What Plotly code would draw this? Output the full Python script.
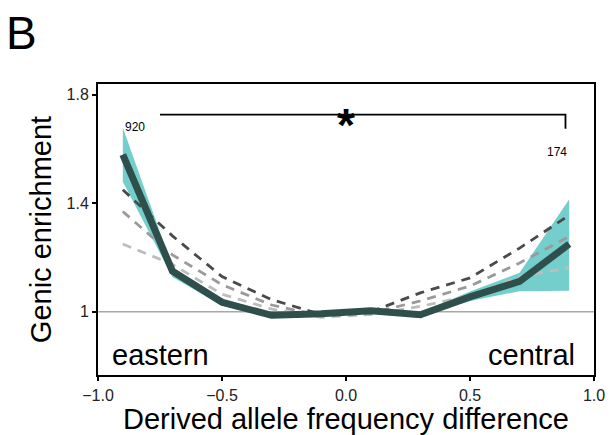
import plotly.graph_objects as go

x_bins = [-0.9, -0.7, -0.5, -0.3, -0.1, 0.1, 0.3, 0.5, 0.7, 0.9]
observed = [1.58, 1.15, 1.035, 0.987, 0.993, 1.004, 0.989, 1.055, 1.112, 1.25]
band_upper = [1.68, 1.165, 1.05, 0.995, 1.0, 1.01, 0.997, 1.075, 1.144, 1.415]
band_lower = [1.48, 1.128, 1.022, 0.978, 0.986, 0.996, 0.981, 1.04, 1.076, 1.078]
sim_dark = [1.45, 1.28, 1.13, 1.045, 0.99, 1.0, 1.07, 1.125, 1.235, 1.356]
sim_mid = [1.37, 1.21, 1.10, 1.025, 0.985, 0.995, 1.04, 1.095, 1.18, 1.278]
sim_light = [1.25, 1.175, 1.065, 1.01, 0.98, 0.99, 1.02, 1.06, 1.13, 1.163]
counts = ["920", "174"]
x_ticks = [-1.0, -0.5, 0.0, 0.5, 1.0]
x_tick_text = ["\u22121.0", "\u22120.5", "0.0", "0.5", "1.0"]
y_ticks = [1.0, 1.4, 1.8]
y_tick_text = ["1", "1.4", "1.8"]

FONT = "Liberation Sans"
fig = go.Figure()

# reference line at 1
fig.add_trace(go.Scatter(x=[-1, 1], y=[1, 1], mode="lines",
                         line=dict(color="#a8a8a8", width=1.5),
                         hoverinfo="skip", showlegend=False))

# band
fig.add_trace(go.Scatter(x=x_bins + x_bins[::-1], y=band_upper + band_lower[::-1],
                         fill="toself", fillcolor="#74cfcc", mode="lines",
                         line=dict(width=0, color="#74cfcc"), showlegend=False))

for vals, col in [(sim_light, "#bdbdbd"), (sim_mid, "#9a9a9a"), (sim_dark, "#4a4a4a")]:
    fig.add_trace(go.Scatter(x=x_bins, y=vals, mode="lines",
                             line=dict(color=col, width=2.8, dash="9px,7px"),
                             showlegend=False))

fig.add_trace(go.Scatter(x=x_bins, y=observed, mode="lines",
                         line=dict(color="#2e4f4c", width=7),
                         showlegend=False))

# bracket
fig.add_trace(go.Scatter(x=[-0.75, 0.885, 0.885], y=[1.727, 1.727, 1.675], mode="lines",
                         line=dict(color="black", width=1.8), showlegend=False))

fig.add_annotation(x=0.0, y=1.727, text="<b>*</b>", showarrow=False,
                   font=dict(size=46, color="black", family=FONT),
                   yanchor="middle", yshift=-10)
fig.add_annotation(x=-0.85, y=1.683, text=counts[0], showarrow=False,
                   font=dict(size=12, color="black", family=FONT))
fig.add_annotation(x=0.85, y=1.59, text=counts[1], showarrow=False,
                   font=dict(size=12, color="black", family=FONT))
fig.add_annotation(x=-0.953, y=0.84, text="eastern", showarrow=False, xanchor="left",
                   font=dict(size=29, color="black", family=FONT))
fig.add_annotation(x=0.93, y=0.84, text="central", showarrow=False, xanchor="right",
                   font=dict(size=29, color="black", family=FONT))
fig.add_annotation(x=(21 - 98) / 496, y=(375 - 33) / 291, xref="paper", yref="paper",
                   text="B", showarrow=False, xanchor="center", yanchor="middle",
                   font=dict(size=46, color="black", family=FONT))

fig.update_layout(
    width=611, height=435,
    margin=dict(l=98, r=17, t=84, b=60, autoexpand=False),
    paper_bgcolor="white", plot_bgcolor="white",
    font=dict(family=FONT, color="black"),
    showlegend=False,
)
fig.update_xaxes(range=[-1, 1], tickvals=x_ticks, ticktext=x_tick_text,
                 ticks="outside", ticklen=4, tickwidth=1.5, tickcolor="black",
                 showline=True, linecolor="black", linewidth=2, mirror=True,
                 showgrid=False, zeroline=False, ticklabelstandoff=1,
                 tickfont=dict(size=16, color="#222"),
                 title=dict(text="Derived allele frequency difference",
                            font=dict(size=29), standoff=1))
fig.update_yaxes(range=[0.767, 1.84], tickvals=y_ticks, ticktext=y_tick_text,
                 ticks="outside", ticklen=4, tickwidth=1.5, tickcolor="black",
                 showline=True, linecolor="black", linewidth=2, mirror=True,
                 showgrid=False, zeroline=False,
                 tickfont=dict(size=16, color="#222"),
                 title=dict(text="Genic enrichment", font=dict(size=29), standoff=6))

fig.write_html("out.html")
